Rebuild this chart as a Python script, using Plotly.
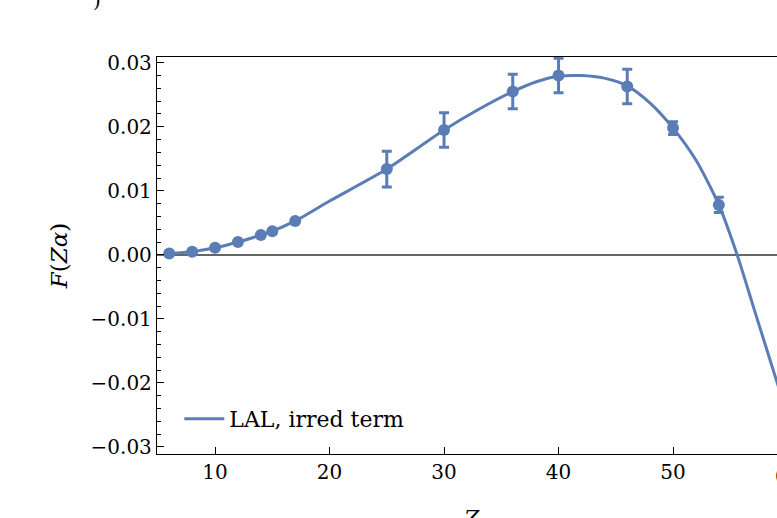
import plotly.graph_objects as go

# Data points with error bars
z_pts = [6, 8, 10, 12, 14, 15, 17, 25, 30, 36, 40, 46, 50, 54]
f_pts = [0.0002, 0.0005, 0.0011, 0.0020, 0.0031, 0.0037, 0.0053,
         0.0134, 0.0195, 0.0255, 0.0280, 0.0263, 0.0198, 0.0078]
f_err = [0.0001, 0.0001, 0.0001, 0.0001, 0.0001, 0.0001, 0.0001,
         0.0028, 0.0027, 0.0027, 0.0027, 0.0027, 0.0010, 0.0012]

# Fitted curve
curve_z = [6, 8, 10, 12, 14, 15, 17, 20, 25, 30, 33, 36, 38, 40, 42, 44,
           46, 48, 50, 52, 54, 55.6, 57, 59.1, 60]
curve_f = [0.0002, 0.0005, 0.0011, 0.0020, 0.0031, 0.0037, 0.0053, 0.0084,
           0.0134, 0.0195, 0.0227, 0.0255, 0.0270, 0.0279, 0.0280, 0.0276,
           0.0264, 0.0237, 0.0198, 0.0148, 0.0078, 0.0, -0.0080, -0.0200,
           -0.0251]

x_ticks = [10, 20, 30, 40, 50, 60]
y_ticks = [-0.03, -0.02, -0.01, 0.0, 0.01, 0.02, 0.03]
y_ticklabels = ["\u22120.03", "\u22120.02", "\u22120.01", "0.00", "0.01", "0.02", "0.03"]

BLUE = "#5a7db6"
FONT = "DejaVu Serif"
X_MAX = 59.08  # right edge of the visible window

fig = go.Figure()
fig.add_trace(go.Scatter(
    x=curve_z, y=curve_f, mode="lines", name="LAL, irred term",
    line=dict(color=BLUE, width=3, shape="spline", smoothing=0.7),
))
fig.add_trace(go.Scatter(
    x=z_pts, y=f_pts, mode="markers", showlegend=False,
    marker=dict(color=BLUE, size=12),
    error_y=dict(type="data", array=f_err, color=BLUE, thickness=3, width=5),
))

fig.update_layout(
    width=777, height=518, autosize=False,
    margin=dict(l=157, r=0, t=57, b=64),
    paper_bgcolor="white", plot_bgcolor="white",
    font=dict(family=FONT, size=20, color="black"),
    showlegend=True,
    legend=dict(x=0.036, y=0.088, xanchor="left", yanchor="middle",
                itemwidth=40, bgcolor="rgba(0,0,0,0)",
                font=dict(size=22, family=FONT)),
    xaxis=dict(range=[4.93, X_MAX], tickvals=x_ticks, ticks="inside", ticklen=7,
               tickcolor="black", showline=True, linecolor="black", linewidth=1.3,
               mirror=True, showgrid=False, zeroline=False,
               tickfont=dict(size=20, family=FONT)),
    yaxis=dict(range=[-0.0311, 0.0309], tickvals=y_ticks, ticktext=y_ticklabels,
               ticks="inside", ticklen=7, tickcolor="black", showline=True,
               linecolor="black", linewidth=1.3, mirror=False, showgrid=False,
               zeroline=True, zerolinecolor="#666666", zerolinewidth=1.5,
               minor=dict(dtick=0.002, ticks="inside", ticklen=4, tickcolor="black"),
               tickfont=dict(size=20, family=FONT),
               title=dict(text="<i>F</i>(<i>Zα</i>)", font=dict(size=23, family=FONT),
                          standoff=16)),
)

# tick label "60" lies just beyond the right edge; only a sliver shows
fig.add_annotation(text=str(x_ticks[-1]), xref="paper", yref="paper", x=1, y=0,
                   xanchor="center", yanchor="top", xshift=10, yshift=-8,
                   showarrow=False, font=dict(size=20, family=FONT))
fig.add_annotation(text="<i>Z</i>", xref="x", yref="paper", x=32.4, y=0,
                   yanchor="top", yshift=-50, showarrow=False,
                   font=dict(size=22, family=FONT))
fig.add_annotation(text=")", xref="paper", yref="paper", x=-0.097, y=1,
                   xanchor="center", yanchor="bottom", yshift=43, showarrow=False,
                   font=dict(size=20, family=FONT))

fig.write_html("out.html",
               config={"displayModeBar": False, "responsive": False},
               post_script="document.body.style.margin='0';")
